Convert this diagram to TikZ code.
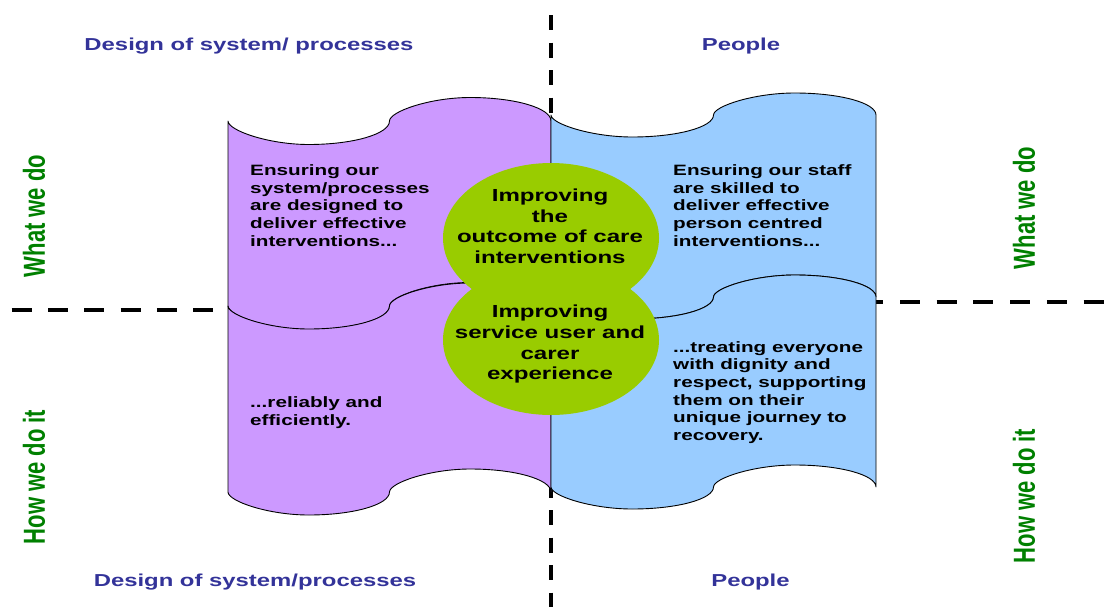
\documentclass[tikz,border=0pt]{standalone}
\usepackage{fontspec}
\setmainfont{Liberation Sans}
\newfontfamily\wfont[FakeStretch=1.38]{Liberation Sans}
\newfontfamily\rfont[FakeStretch=0.725]{Liberation Sans}
\usetikzlibrary{shapes.geometric}
\definecolor{tapepurple}{HTML}{CC99FF}
\definecolor{tapeblue}{HTML}{99CCFF}
\definecolor{ellgreen}{HTML}{99CC00}
\definecolor{headblue}{HTML}{333399}
\definecolor{sidegreen}{HTML}{008000}
% #1 x left, #2 x right, #3 top centre line, #4 bottom centre line, #5 wave amplitude, #6 fill
\newcommand\tapeshape[6]{%
\pgfmathsetmacro\tr{(#2-#1)/4}%
\pgfmathsetmacro\tk{0.5523*\tr}%
\pgfmathsetmacro\tkb{0.5*\tr}%
\pgfmathsetmacro\ta{#5}%
\pgfmathsetmacro\tka{0.5523*#5}%
\pgfmathsetmacro\tkc{0.4*#5}%
\draw[tapeline, fill=#6] (#1,#3)
 .. controls (#1,#3+\tkc) and (#1+\tr-\tkb,#3+\ta) .. (#1+\tr,#3+\ta)
 .. controls (#1+\tr+\tk,#3+\ta) and (#1+2*\tr,#3+\tka) .. (#1+2*\tr,#3)
 .. controls (#1+2*\tr,#3-\tkc) and (#1+3*\tr-\tkb,#3-\ta) .. (#1+3*\tr,#3-\ta)
 .. controls (#1+3*\tr+\tk,#3-\ta) and (#2,#3-\tka) .. (#2,#3)
 -- (#2,#4)
 .. controls (#2,#4-\tka) and (#1+3*\tr+\tk,#4-\ta) .. (#1+3*\tr,#4-\ta)
 .. controls (#1+3*\tr-\tkb,#4-\ta) and (#1+2*\tr,#4-\tkc) .. (#1+2*\tr,#4)
 .. controls (#1+2*\tr,#4+\tka) and (#1+\tr+\tk,#4+\ta) .. (#1+\tr,#4+\ta)
 .. controls (#1+\tr-\tkb,#4+\ta) and (#1,#4+\tkc) .. (#1,#4)
 -- cycle;}
\tikzset{
  tapeline/.style={draw=black, line width=0.9pt, line join=round},
  divider/.style={draw=black, line width=4pt},
  ell/.style={ellipse, fill=ellgreen, minimum width=216pt, minimum height=150pt, inner sep=0pt},
  elltext/.style={anchor=north, align=center, inner sep=0pt, font=\wfont\bfseries\fontsize{17.45}{20.6}\selectfont},
  boxtext/.style={anchor=north west, align=left, inner sep=0pt, font=\wfont\bfseries\fontsize{15}{17.7}\selectfont},
  head/.style={anchor=base, inner sep=0pt, text=headblue, font=\wfont\bfseries\fontsize{17.3}{20}\selectfont},
  side/.style={rotate=90, anchor=center, inner sep=0pt, text=sidegreen, font=\rfont\bfseries\fontsize{30.4}{32}\selectfont}
}
\begin{document}
\begin{tikzpicture}[x=1pt, y=-1pt]
\useasboundingbox (0,0) rectangle (1115,608);
% dividers
\coordinate (vtop) at (550.5,15);
\coordinate (vbot) at (550.5,607);
\coordinate (hl1) at (11.7,310);
\coordinate (hl2) at (230,310);
\coordinate (hr1) at (863.3,302);
\coordinate (hr2) at (1104,302);
\draw[divider, dash pattern=on 15pt off 12.5pt] (vtop) -- (vbot);
\draw[divider, dash pattern=on 20pt off 16.3pt] (hl1) -- (hl2);
\draw[divider, dash pattern=on 20pt off 16.7pt] (hr1) -- (hr2);
% tapes
\tapeshape{228}{551}{121}{306}{23.5}{tapepurple}
\tapeshape{551}{876}{115}{297}{22}{tapeblue}
\tapeshape{228}{551}{306}{492}{23}{tapepurple}
\tapeshape{551}{876}{297}{487}{22}{tapeblue}
% ellipses
\node[ell] (eup) at (551,238) {};
\node[ell] (elow) at (551,340) {};
\node[elltext] (tup) at (550,188.8) {Improving\\the\\outcome of care\\interventions};
\node[elltext] (tlow) at (550,305) {Improving\\service user and\\carer\\experience};
% box texts
\node[boxtext] (tl) at (250,164.5) {Ensuring our\\system/processes\\are designed to\\deliver effective\\interventions...};
\node[boxtext] (tr) at (673,164.5) {Ensuring our staff\\are skilled to\\deliver effective\\person centred\\interventions...};
\node[boxtext] (bl) at (250,396.5) {...reliably and\\efficiently.};
\node[boxtext] (br) at (673,341) {...treating everyone\\with dignity and\\respect, supporting\\them on their\\unique journey to\\recovery.};
% headers
\node[head] (h1) at (249,50.5) {Design of system/ processes};
\node[head] (h2) at (741,50.5) {People};
\node[head] (h3) at (255,586) {Design of system/processes};
\node[head] (h4) at (750.5,586) {People};
% side labels
\node[side] (s1) at (34,216) {What we do};
\node[side] (s2) at (34,477) {How we do it};
\node[side] (s3) at (1024,208) {What we do};
\node[side] (s4) at (1024,496) {How we do it};
\end{tikzpicture}
\end{document}
